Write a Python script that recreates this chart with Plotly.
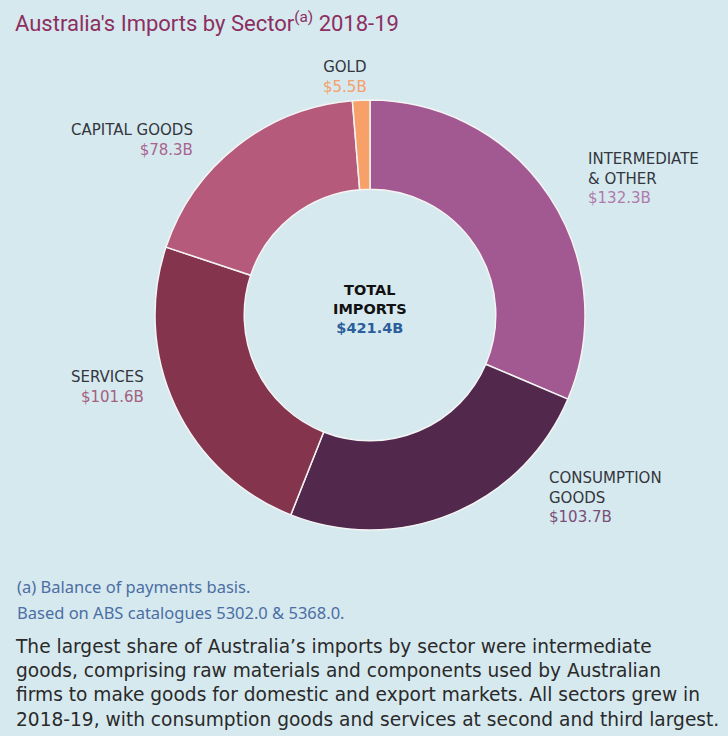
import plotly.graph_objects as go

W, H = 728, 736

sectors = ["INTERMEDIATE<br>& OTHER", "CONSUMPTION<br>GOODS", "SERVICES", "CAPITAL GOODS", "GOLD"]
values = [132.3, 103.7, 101.6, 78.3, 5.5]
slice_colors = ["#a25891", "#52284d", "#84344d", "#b55a7a", "#f7a06a"]
value_colors = ["#b07aab", "#7a4f78", "#a4607c", "#a8648e", "#f7a06a"]
total_label = "TOTAL<br>IMPORTS"
total_value = "$421.4B"
title_main = "Australia's Imports by Sector"
title_sup = "(a)"
title_year = " 2018-19"
footnotes = ["(a) Balance of payments basis.", "Based on ABS catalogues 5302.0 & 5368.0."]
body_lines = [
    "The largest share of Australia\u2019s imports by sector were intermediate",
    "goods, comprising raw materials and components used by Australian",
    "firms to make goods for domestic and export markets. All sectors grew in",
    "2018-19, with consumption goods and services at second and third largest.",
]

BG = "#d6e9ef"
NAME_COLOR = "#33363d"
FONT = "Noto Sans"
LABEL_FONT = "DejaVu Sans"

fig = go.Figure()
fig.add_trace(go.Pie(
    values=values,
    labels=[s.replace("<br>", " ") for s in sectors],
    marker=dict(colors=slice_colors, line=dict(color="#f4f4f4", width=1.5)),
    hole=0.585,
    sort=False,
    direction="clockwise",
    rotation=0,
    textinfo="none",
    hoverinfo="label+value",
    showlegend=False,
    domain=dict(x=[155 / W, 585 / W], y=[(H - 530) / H, (H - 100) / H]),
))

anns = []


def add_text(text, x, y, xanchor="left", size=16, color=NAME_COLOR, family=FONT):
    anns.append(dict(
        x=x / W, y=1 - y / H, xref="paper", yref="paper",
        xanchor=xanchor, yanchor="middle", align=xanchor if xanchor != "center" else "center",
        showarrow=False, text=text, borderpad=0,
        font=dict(family=family, size=size, color=color),
    ))


# label layout: x px, y px of block centre, anchor
label_layout = [
    (587, 178, "left"),
    (548, 498, "left"),
    (145, 387, "right"),
    (194, 140, "right"),
    (345, 77, "center"),
]
for name, val, vc, (x, y, xa) in zip(sectors, values, value_colors, label_layout):
    txt = f"{name}<br><span style='color:{vc}'>${val:.1f}B</span>"
    add_text(txt, x, y, xa, size=15, color=NAME_COLOR, family=LABEL_FONT)

# centre text
add_text(f"<b>{total_label}</b><br><b><span style='color:#2b5d9b'>{total_value}</span></b>",
         370, 309, "center", size=14.5, color="#111111", family=LABEL_FONT)

# title
add_text(f"{title_main}<sup>{title_sup}</sup>{title_year}", 14, 22, "left",
         size=22, color="#8c2f60", family="Roboto")

# footnotes
for t, y in zip(footnotes, [586, 612]):
    add_text(t, 16, y, "left", size=16.5, color="#4b6ea3")

# body (one block, line spacing ~23px)
add_text("<br>".join(body_lines), 14, 683, "left", size=18.6, color="#2a2a2a", family=LABEL_FONT)

fig.update_layout(
    width=W, height=H,
    margin=dict(l=0, r=0, t=0, b=0),
    paper_bgcolor=BG, plot_bgcolor=BG,
    annotations=anns,
)

fig.write_html(
    "out.html",
    config={"displayModeBar": False},
    post_script="document.body.style.margin='0px';document.body.style.background='" + BG + "';",
)
